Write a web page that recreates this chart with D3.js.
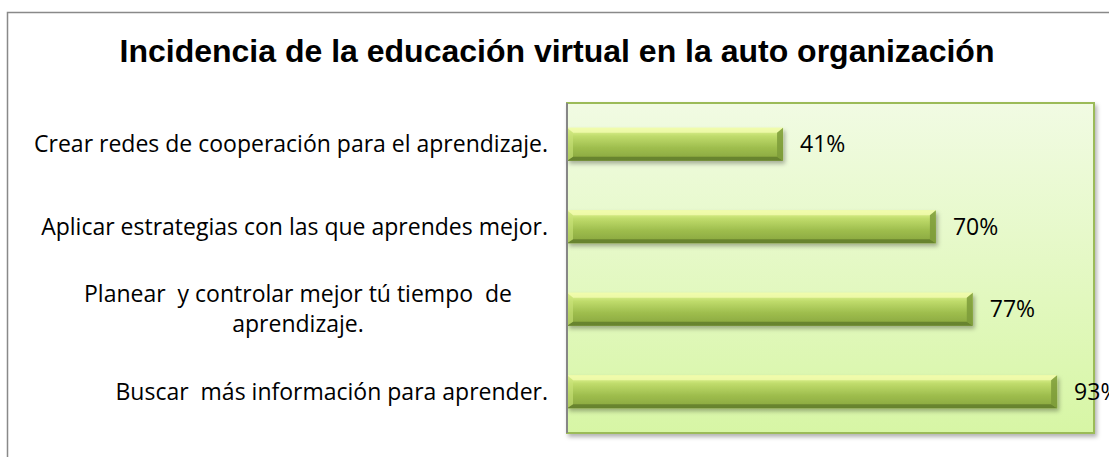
<!DOCTYPE html>
<html>
<head>
<meta charset="utf-8">
<script src="https://cdn.jsdelivr.net/npm/d3@7"></script>
<style>
  body { margin: 0; background: #fff; }
  svg { display: block; }
</style>
</head>
<body>
<svg width="1109" height="457"></svg>
<script>
// Data
var categories = [
  "Crear redes de cooperación para el aprendizaje.",
  "Aplicar estrategias con las que aprendes mejor.",
  "Planear  y controlar mejor tú tiempo  de aprendizaje.",
  "Buscar  más información para aprender."
];
var values = [41, 70, 77, 93];
var titleText = "Incidencia de la educación virtual en la auto organización";

var svg = d3.select("svg"),
  width = +svg.attr("width"),
  height = +svg.attr("height");

var plot = { left: 567, top: 103, right: 1094, bottom: 433 };
var labelRight = 548, labelMaxW = 520, labelCenter = 298;
var labelFont = "'Open Sans', 'Noto Sans', sans-serif";
var fontSize = "23px";

var defs = svg.append("defs");

var bg = defs.append("linearGradient").attr("id", "bg")
  .attr("x1", 0).attr("y1", 0).attr("x2", 0).attr("y2", 1);
bg.append("stop").attr("offset", "0%").attr("stop-color", "#f1fbe3");
bg.append("stop").attr("offset", "100%").attr("stop-color", "#d7f6a5");

var barGrad = defs.append("linearGradient").attr("id", "barGrad")
  .attr("x1", 0).attr("y1", 0).attr("x2", 0).attr("y2", 1);
barGrad.append("stop").attr("offset", "0%").attr("stop-color", "#eafb9e");
barGrad.append("stop").attr("offset", "25%").attr("stop-color", "#c0dc6c");
barGrad.append("stop").attr("offset", "60%").attr("stop-color", "#9fbe4e");
barGrad.append("stop").attr("offset", "100%").attr("stop-color", "#87a53d");

var shadow = defs.append("filter").attr("id", "shadow")
  .attr("x", "-10%").attr("y", "-30%").attr("width", "130%").attr("height", "180%");
shadow.append("feDropShadow").attr("dx", 2).attr("dy", 3)
  .attr("stdDeviation", 2).attr("flood-color", "#000").attr("flood-opacity", 0.3);

// Outer chart border
svg.append("rect")
  .attr("x", 7.5).attr("y", 12.5)
  .attr("width", width + 10).attr("height", height + 10)
  .attr("fill", "#fff").attr("stroke", "#898989").attr("stroke-width", 1.5);

// Title
svg.append("text")
  .attr("x", 557).attr("y", 62)
  .attr("text-anchor", "middle")
  .style("font-family", "'Liberation Sans', Arial, sans-serif")
  .style("font-weight", "bold")
  .style("font-size", "32px")
  .text(titleText);

// Plot area
svg.append("rect")
  .attr("x", plot.left).attr("y", plot.top)
  .attr("width", plot.right - plot.left).attr("height", plot.bottom - plot.top)
  .attr("fill", "url(#bg)").attr("stroke", "#9bbb59").attr("stroke-width", 2)
  .attr("filter", "url(#shadow)");

// Scales
var x = d3.scaleLinear().domain([0, 100]).range([plot.left, plot.right]);
var y = d3.scaleBand().domain(categories)
  .range([plot.top, plot.bottom])
  .paddingInner(0.6).paddingOuter(0.3);

// Bars
var bars = svg.append("g").selectAll("g.bar")
  .data(categories)
  .enter().append("g").attr("class", "bar");

var bevel = 6;
bars.append("rect")
  .attr("x", x(0))
  .attr("y", function(d) { return y(d); })
  .attr("width", function(d, i) { return x(values[i]) - x(0); })
  .attr("height", y.bandwidth())
  .attr("fill", "url(#barGrad)")
  .attr("filter", "url(#shadow)");

// top bevel (light)
bars.append("path")
  .attr("d", function(d, i) {
    var x0 = x(0), x1 = x(values[i]), y0 = y(d);
    return "M" + x0 + "," + y0 + "L" + x1 + "," + y0 + "L" + (x1 - bevel) + "," + (y0 + 5) + "L" + (x0 + bevel) + "," + (y0 + 5) + "Z";
  })
  .attr("fill", "#f3fdb0").attr("opacity", 0.8);

// bottom bevel (dark)
bars.append("path")
  .attr("d", function(d, i) {
    var x0 = x(0), x1 = x(values[i]), y1 = y(d) + y.bandwidth();
    return "M" + x0 + "," + y1 + "L" + x1 + "," + y1 + "L" + (x1 - bevel) + "," + (y1 - 4) + "L" + (x0 + bevel) + "," + (y1 - 4) + "Z";
  })
  .attr("fill", "#5f7a2a").attr("opacity", 0.8);

// right bevel
bars.append("path")
  .attr("d", function(d, i) {
    var x1 = x(values[i]), y0 = y(d), y1 = y0 + y.bandwidth();
    return "M" + x1 + "," + y0 + "L" + x1 + "," + y1 + "L" + (x1 - bevel) + "," + (y1 - 4) + "L" + (x1 - bevel) + "," + (y0 + 5) + "Z";
  })
  .attr("fill", "#7d9b3a").attr("opacity", 0.85);

// left bevel
bars.append("path")
  .attr("d", function(d, i) {
    var x0 = x(0), y0 = y(d), y1 = y0 + y.bandwidth();
    return "M" + x0 + "," + y0 + "L" + x0 + "," + y1 + "L" + (x0 + bevel) + "," + (y1 - 4) + "L" + (x0 + bevel) + "," + (y0 + 5) + "Z";
  })
  .attr("fill", "#c9e27a").attr("opacity", 0.6);

// Axis line
svg.append("line")
  .attr("x1", plot.left).attr("x2", plot.left)
  .attr("y1", plot.top).attr("y2", plot.bottom)
  .attr("stroke", "#868686").attr("stroke-width", 2);

// Value labels
bars.append("text")
  .attr("x", function(d, i) { return x(values[i]) + 17; })
  .attr("y", function(d) { return y(d) + y.bandwidth() / 2; })
  .attr("dy", "0.35em")
  .style("font-family", labelFont)
  .style("font-size", fontSize)
  .text(function(d, i) { return values[i] + "%"; });

// Category labels with wrapping
var labels = svg.append("g");
categories.forEach(function(c) {
  var t = labels.append("text")
    .style("font-family", labelFont)
    .style("font-size", fontSize)
    .style("white-space", "pre");
  var words = c.split(" "), lines = [], line = "";
  var probe = t.append("tspan");
  words.forEach(function(w) {
    var test = line === "" ? w : line + " " + w;
    probe.text(test);
    if (probe.node().getComputedTextLength() > labelMaxW && line !== "") {
      lines.push(line);
      line = w;
    } else {
      line = test;
    }
  });
  lines.push(line);
  probe.remove();
  var cy = y(c) + y.bandwidth() / 2, lh = 30;
  var multi = lines.length > 1;
  t.attr("text-anchor", multi ? "middle" : "end");
  lines.forEach(function(l, k) {
    t.append("tspan")
      .attr("x", multi ? labelCenter : labelRight)
      .attr("y", cy + (k - (lines.length - 1) / 2) * lh)
      .attr("dy", "0.35em")
      .text(l.trim());
  });
});
</script>
</body>
</html>
